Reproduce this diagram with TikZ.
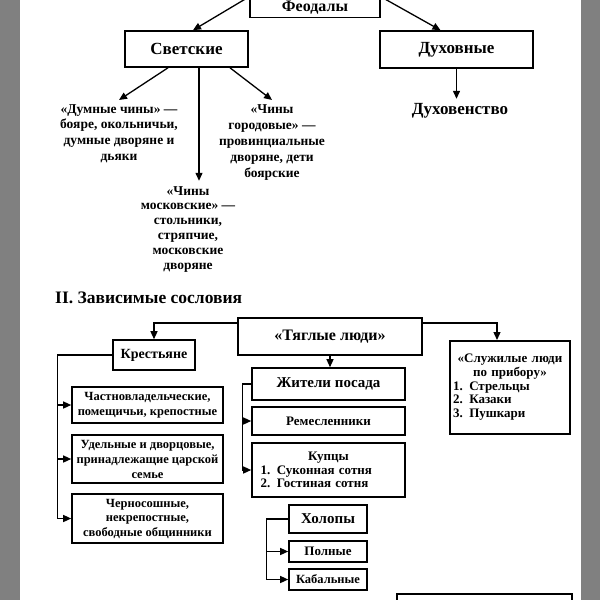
\documentclass[tikz,border=0pt]{standalone}
\usepackage{fontspec}
\setmainfont{Liberation Serif}
\usetikzlibrary{arrows.meta,calc}
\newcommand\fsz[2]{\fontsize{#1}{#2}\selectfont\bfseries}
\definecolor{bargray}{RGB}{128,128,128}
\begin{document}
\begin{tikzpicture}[x=1pt,y=-1pt,
  box/.style={draw,line width=1.6pt,inner sep=1pt,align=center},
  arr/.style={line width=1.3pt,-{Triangle[length=8pt,width=7pt]}},
  ln/.style={line width=1.3pt},
  txt/.style={align=center,inner sep=0pt}]
\useasboundingbox (0,0) rectangle (600,600);
\clip (0,0) rectangle (600,600);
\fill[white] (0,0) rectangle (600,600);
\fill[bargray] (0,0) rectangle (20,600);
\fill[bargray] (581,0) rectangle (600,600);

% top part
\node[box,minimum width=130,minimum height=20,font=\fsz{16}{18}] (feod) at (315,7.5) {Феодалы};
\node[box,minimum width=123,minimum height=36,font=\fsz{17}{19}] (svet) at (186.5,49) {Светские};
\node[box,minimum width=153,minimum height=37,font=\fsz{17}{19}] (duh) at (456.5,49.5) {Духовные};
\node[txt,font=\fsz{17}{19}] (duhv) at (460,111) {Духовенство};
\node[txt,anchor=north,font=\fsz{13.5}{15.7}] (dumn) at (119,104) {«Думные чины» —\\бояре, окольничьи,\\думные дворяне и\\дьяки};
\node[txt,anchor=north,font=\fsz{13.5}{16}] (gor) at (272,104) {«Чины\\городовые» —\\провинциальные\\дворяне, дети\\боярские};
\node[txt,anchor=north,font=\fsz{13.5}{14.8}] (mosk) at (188,186) {«Чины\\московские» —\\стольники,\\стряпчие,\\московские\\дворяне};

\draw[arr] (feod.north west) -- ([xshift=6.5pt]svet.north);
\draw[arr] (feod.north east) -- ([xshift=-16pt]duh.north);
\draw[arr] (duh.south) -- ($(duh.south)+(0,30)$);
\draw[arr] ([xshift=-18.5pt]svet.south) -- ($(dumn.north)+(0,-4)$);
\draw[arr] ([xshift=43.5pt]svet.south) -- ($(gor.north)+(0,-4)$);
\draw[arr] ([xshift=12.5pt]svet.south) -- ($(svet.south)+(12.5,113)$);

% heading
\node[txt,anchor=west,font=\fsz{17.5}{19}] (head) at (55,298) {II. Зависимые сословия};

% lower part
\node[box,minimum width=184,minimum height=37,font=\fsz{16}{18}] (tyag) at (330,336.5) {«Тяглые люди»};
\node[box,anchor=north,minimum width=120,minimum height=93,text width=114,align=left,font=\fsz{13}{13.7}] (sluzh) at (510,340)
  {\hfill«Служилые люди\hfill\null\\\hfill по прибору»\hfill\null\\1. Стрельцы\\2. Казаки\\3. Пушкари};
\node[box,minimum width=82,minimum height=30,font=\fsz{14}{16}] (krest) at (154,355) {Крестьяне};

\node[box,minimum width=153,minimum height=32,font=\fsz{15}{17}] (zhit) at (328.5,384) {Жители посада};
\node[box,minimum width=153,minimum height=28,font=\fsz{13}{15}] (rem) at (328.5,421) {Ремесленники};
\node[box,minimum width=153,minimum height=54,text width=136,align=left,font=\fsz{13}{13.8}] (kup) at (328.5,470)
  {\hfill Купцы\hfill\null\\1. Суконная сотня\\2. Гостиная сотня};

\node[box,minimum width=151,minimum height=36,font=\fsz{12.5}{15}] (chast) at (147.5,405) {Частновладельческие,\\помещичьи, крепостные};
\node[box,minimum width=151,minimum height=48,font=\fsz{12.5}{15}] (udel) at (147.5,459) {Удельные и дворцовые,\\принадлежащие царской\\семье};
\node[box,minimum width=151,minimum height=49,font=\fsz{12.5}{14.5}] (chern) at (147.5,518.5) {Черносошные,\\некрепостные,\\свободные общинники};

\node[box,minimum width=78,minimum height=28,font=\fsz{15}{17}] (kholop) at (328,519) {Холопы};
\node[box,minimum width=78,minimum height=21,font=\fsz{13}{15}] (poln) at (328,551.5) {Полные};
\node[box,minimum width=78,minimum height=21,font=\fsz{12.5}{15}] (kab) at (328,579.5) {Кабальные};
\node[box,anchor=north west,minimum width=175,minimum height=30] (bot) at (396,593) {};

% lower connectors
\draw[arr] ([yshift=13.5pt]tyag.west) -| (krest.north);
\draw[arr] ([yshift=13.5pt]tyag.east) -| ([xshift=-13pt]sluzh.north);
\draw[arr] (tyag.south) -- (tyag.south |- zhit.north);

\draw[ln] (zhit.west) -| ($(kup.west)+(-9,0)$);
\draw[arr] ($(rem.west)+(-9,0)$) -- (rem.west);
\draw[arr] ($(kup.west)+(-9,0)$) -- (kup.west);

\draw[ln] (krest.west) -| ($(chern.west)+(-14,0)$);
\draw[arr] ($(chast.west)+(-14,0)$) -- (chast.west);
\draw[arr] ($(udel.west)+(-14,0)$) -- (udel.west);
\draw[arr] ($(chern.west)+(-14,0)$) -- (chern.west);

\draw[ln] (kholop.west) -| ($(kab.west)+(-22,0)$);
\draw[arr] ($(poln.west)+(-22,0)$) -- (poln.west);
\draw[arr] ($(kab.west)+(-22,0)$) -- (kab.west);
\end{tikzpicture}
\end{document}
